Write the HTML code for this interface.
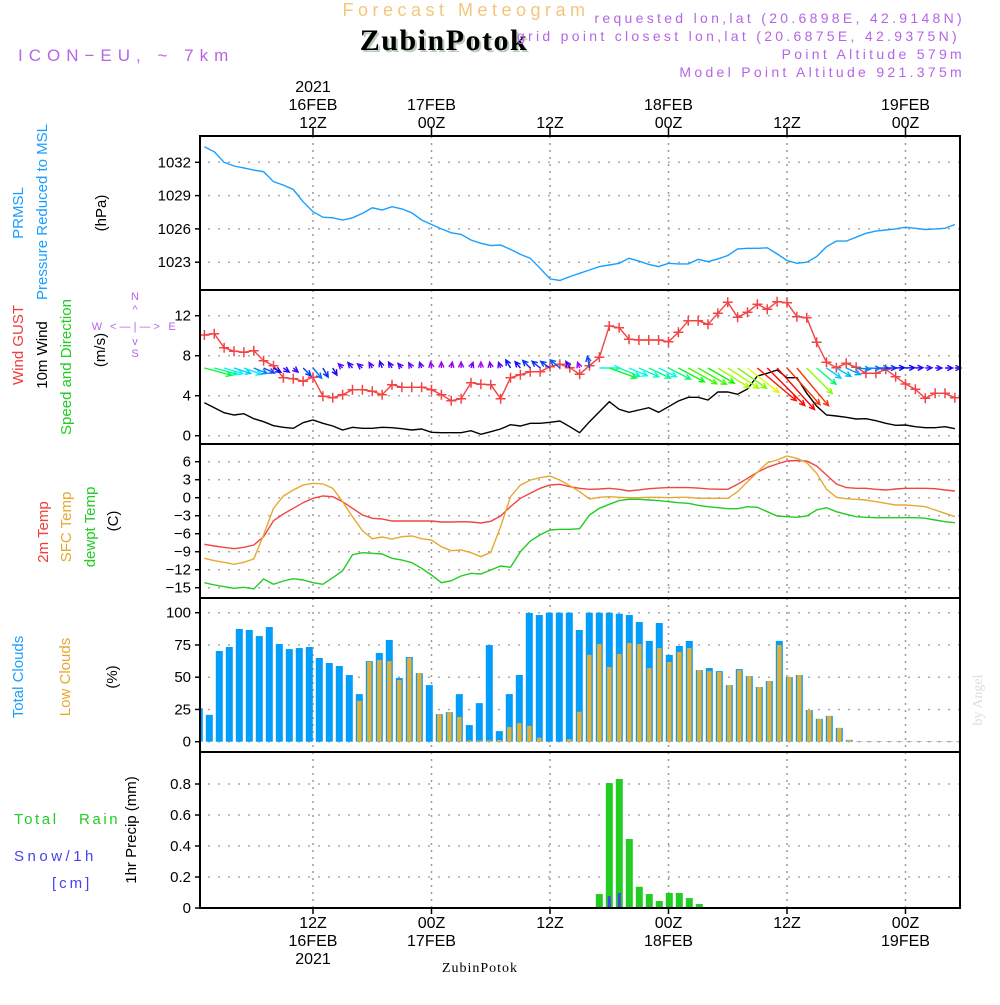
<!DOCTYPE html>
<html><head><meta charset="utf-8"><title>Meteogram</title>
<style>
body{margin:0;background:#fff;}
svg text{font-family:"Liberation Sans",sans-serif;}
</style></head>
<body>
<svg id="chart" width="1000" height="1000" viewBox="0 0 1000 1000" xmlns="http://www.w3.org/2000/svg">
<rect width="1000" height="1000" fill="#fff"/>
<text x="466" y="16" text-anchor="middle" font-size="18" fill="#f2c77c" letter-spacing="4.5">Forecast Meteogram</text>
<text x="446" y="52" text-anchor="middle" font-size="30" font-weight="bold" fill="#b8ccb8" letter-spacing="1.5" style="font-family:'Liberation Serif',serif">ZubinPotok</text>
<text x="444" y="50" text-anchor="middle" font-size="30" font-weight="bold" fill="#000" letter-spacing="1.5" style="font-family:'Liberation Serif',serif">ZubinPotok</text>
<g fill="#b565e8" font-size="14" text-anchor="end" letter-spacing="3.3">
<text x="965" y="23">requested lon,lat (20.6898E, 42.9148N)</text>
<text x="960" y="41">grid point closest lon,lat (20.6875E, 42.9375N)</text>
<text x="965" y="59">Point Altitude 579m</text>
<text x="965" y="77">Model Point Altitude 921.375m</text>
</g>
<text x="18" y="61" font-size="17" fill="#b565e8" letter-spacing="6">ICON−EU, ~ 7km</text>
<g id="grid"></g>
<g id="marks"></g>
<g id="frames"></g>
<g id="labels" font-size="15">
<text transform="translate(23,213) rotate(-90)" text-anchor="middle" fill="#1a9fff">PRMSL</text>
<text transform="translate(47,212) rotate(-90)" text-anchor="middle" fill="#1a9fff">Pressure Reduced to MSL</text>
<text transform="translate(106,213) rotate(-90)" text-anchor="middle" fill="#000">(hPa)</text>
<text transform="translate(23,345) rotate(-90)" text-anchor="middle" fill="#f03c3c">Wind GUST</text>
<text transform="translate(47,355) rotate(-90)" text-anchor="middle" fill="#000">10m Wind</text>
<text transform="translate(71,367) rotate(-90)" text-anchor="middle" fill="#22cc22">Speed and Direction</text>
<text transform="translate(105,350) rotate(-90)" text-anchor="middle" fill="#000">(m/s)</text>
<g fill="#b565e8" font-size="11">
<text x="135" y="300" text-anchor="middle">N</text>
<text x="135" y="313" text-anchor="middle">^</text>
<text x="135" y="330" text-anchor="middle">&lt; — | — &gt;</text>
<text x="97" y="330" text-anchor="middle">W</text>
<text x="172" y="330" text-anchor="middle">E</text>
<text x="135" y="345" text-anchor="middle">v</text>
<text x="135" y="357" text-anchor="middle">S</text>
</g>
<text transform="translate(48,532) rotate(-90)" text-anchor="middle" fill="#f03c3c">2m Temp</text>
<text transform="translate(71,527) rotate(-90)" text-anchor="middle" fill="#e8a830">SFC Temp</text>
<text transform="translate(95,527) rotate(-90)" text-anchor="middle" fill="#22cc22">dewpt Temp</text>
<text transform="translate(118,521) rotate(-90)" text-anchor="middle" fill="#000">(C)</text>
<text transform="translate(23,677) rotate(-90)" text-anchor="middle" fill="#1a9fff">Total Clouds</text>
<text transform="translate(70,677) rotate(-90)" text-anchor="middle" fill="#e8a830">Low Clouds</text>
<text transform="translate(117,677) rotate(-90)" text-anchor="middle" fill="#000">(%)</text>
<text x="14" y="824" fill="#22cc22" letter-spacing="2.6">Total&#160;&#160;&#160;Rain</text>
<text x="14" y="861" fill="#4444ee" letter-spacing="3.5">Snow/1h</text>
<text x="52" y="888" fill="#4444ee" letter-spacing="3">[cm]</text>
<text transform="translate(136,830) rotate(-90)" text-anchor="middle" fill="#000">1hr Precip (mm)</text>
<text transform="translate(982,700) rotate(-90)" text-anchor="middle" fill="#ddd" font-size="14" style="font-family:'Liberation Serif',serif">by Angel</text>
<text x="480" y="972" text-anchor="middle" font-size="14" fill="#000" letter-spacing="1" style="font-family:'Liberation Serif',serif">ZubinPotok</text>
</g>
<g id="timeaxis" font-size="16"></g>
</svg>
<script>
const hours=[];for(let h=1;h<=77;h++)hours.push(h);
const pressure=[1033.4,1032.95,1032.0,1031.67,1031.5,1031.3,1031.15,1030.25,1029.95,1029.55,1028.45,1027.55,1027.05,1027.0,1026.8,1027.0,1027.4,1027.9,1027.7,1028.0,1027.8,1027.45,1026.8,1026.4,1026.0,1025.65,1025.5,1025.0,1024.7,1024.5,1024.55,1024.15,1023.7,1023.35,1022.45,1021.5,1021.35,1021.7,1022.0,1022.3,1022.6,1022.75,1022.9,1023.35,1023.1,1022.8,1022.6,1022.9,1022.85,1022.85,1023.25,1023.05,1023.3,1023.6,1024.2,1024.25,1024.25,1024.3,1023.75,1023.15,1022.9,1023.0,1023.5,1024.4,1024.9,1024.9,1025.25,1025.6,1025.8,1025.9,1026.0,1026.15,1026.05,1025.95,1026.0,1026.05,1026.4];
const gust=[10.07,10.2,8.8,8.45,8.35,8.5,7.5,7.0,5.8,5.7,5.45,5.85,3.95,3.8,4.1,4.6,4.6,4.45,4.1,5.1,4.85,4.85,4.85,4.6,4.1,3.5,3.7,5.3,5.15,5.1,3.7,5.8,6.1,6.4,6.4,6.9,7.15,6.8,6.15,7.0,7.84,10.97,10.8,9.64,9.57,9.57,9.57,9.4,10.34,11.5,11.5,11.14,12.24,13.34,11.84,12.34,13.14,12.64,13.4,13.3,11.9,11.8,9.34,7.34,6.8,7.24,6.84,6.24,6.24,6.64,5.9,5.17,4.64,3.74,4.24,4.24,3.8];
const windSpeed=[3.3,2.8,2.3,2.07,2.2,1.7,1.4,1.0,0.84,0.74,1.3,1.57,1.24,0.97,0.57,0.84,0.74,0.74,0.84,0.8,0.7,0.57,0.67,0.34,0.3,0.3,0.3,0.5,0.14,0.4,0.67,1.1,0.97,1.24,1.24,1.34,1.47,0.9,0.3,1.4,2.4,3.4,2.64,2.34,2.57,2.8,2.34,2.9,3.47,3.84,3.84,3.57,4.37,4.37,4.14,4.67,5.97,6.24,6.57,5.8,5.8,4.24,2.97,2.07,1.97,1.84,1.67,1.7,1.5,1.24,1.04,1.07,0.9,0.8,0.8,0.9,0.7];
const windDir=[285,285,287,288,290,292,295,300,305,310,315,320,330,330,135,140,130,150,160,150,140,150,160,170,180,190,180,200,180,170,160,150,140,135,130,125,130,150,160,170,270,290,292,293,294,295,296,297,298,299,300,300,302,303,305,308,310,315,318,318,320,315,310,305,300,295,275,272,270,270,268,268,268,268,270,270,270];
const temp2m=[-7.77,-8.05,-8.27,-8.5,-8.27,-7.88,-6.5,-3.83,-2.72,-1.77,-0.83,-0.1,0.28,0.17,-0.66,-1.77,-2.88,-3.44,-3.55,-3.88,-3.88,-3.88,-3.88,-3.88,-4.05,-4.05,-4.0,-4.05,-4.22,-3.94,-3.05,-1.49,-0.1,0.73,1.57,2.12,2.23,1.84,1.57,1.4,1.45,1.57,1.4,1.12,1.3,1.5,1.6,1.68,1.68,1.68,1.6,1.46,1.42,1.4,2.23,3.23,4.23,5.06,5.62,6.12,6.2,6.1,5.28,3.78,2.28,1.68,1.57,1.57,1.4,1.28,1.45,1.57,1.57,1.57,1.5,1.28,1.12];
const tempSfc=[-10.1,-10.5,-10.77,-11.1,-10.77,-10.2,-6.2,-1.77,0.28,1.28,2.1,2.4,2.3,1.57,-0.66,-3.16,-5.5,-6.83,-6.55,-6.88,-6.5,-6.38,-6.83,-7.05,-8.16,-8.83,-8.72,-9.16,-9.83,-9.1,-4.83,0.17,2.1,2.94,3.33,3.6,2.94,2.0,1.0,-0.22,0.06,0.17,0.06,0,0,0.06,0.06,0,0.06,0.06,-0.1,-0.1,-0.1,-0.1,1.0,2.67,4.23,5.84,6.28,6.95,6.56,5.84,4.06,1.4,0.06,-0.16,-0.27,-0.38,-0.66,-0.94,-1.22,-1.22,-1.33,-1.5,-2.05,-2.6,-3.16];
const dewpt=[-14.16,-14.55,-14.83,-15.1,-14.94,-15.2,-13.55,-14.44,-13.88,-13.5,-13.72,-14.16,-14.44,-13.33,-12.16,-9.5,-9.16,-9.27,-9.38,-10.1,-10.38,-10.83,-11.77,-12.88,-14.16,-13.83,-13.05,-12.6,-12.72,-12.05,-11.38,-11.6,-9.0,-7.22,-6.2,-5.38,-5.27,-5.27,-5.16,-2.88,-1.77,-1.1,-0.49,-0.27,-0.27,-0.38,-0.49,-0.66,-0.83,-0.94,-1.27,-1.5,-1.66,-1.83,-1.83,-1.5,-1.6,-2.33,-3.05,-3.16,-3.27,-3.05,-2.05,-1.66,-2.33,-2.77,-3.16,-3.27,-3.33,-3.33,-3.33,-3.33,-3.33,-3.44,-3.72,-4.0,-4.16];
const totalClouds=[25.9,20.8,70.3,73.4,87.4,86.6,81.9,88.9,75.7,71.8,72.6,73.4,64.9,61.0,58.7,51.7,36.9,62.5,68.8,78.9,49.4,65.7,53.2,43.9,21.4,22.9,36.9,12.9,29.9,74.9,8.2,36.9,51.7,99.8,98.2,100,100,100,86.6,100,100,100,99.2,98.2,92.8,78.1,92.0,67.3,74.2,78.1,55.5,57.1,54.7,43.9,56.3,50.9,42.4,47,78.1,50.1,51.7,24.6,17.7,20.0,10.7,1.4,0.3,0.3,0.3,0.3,0.3,0.3,0.3,0.3,0.3,0.3,0.3];
const lowClouds=[0,0,0,0,0,0,0,0,0,0,0,0,0,0,0,0,31.7,62.0,63.3,62.5,47.8,65.1,53.2,0,21.4,22.9,19.1,1,1,1,1.3,11.3,14.4,12.3,3.1,0,0,2,23.2,67.3,75.7,57.9,68.1,76.5,75.7,57.1,72.6,61.8,69.6,72.6,55.5,54.7,54.0,43.9,55.5,50.9,42.4,47,75,50.1,51.7,24.6,17.7,20.0,10.7,1.4,0.3,0.3,0.3,0.3,0.3,0.3,0.3,0.3,0.3,0.3,0.3];
const rain=[0,0,0,0,0,0,0,0,0,0,0,0,0,0,0,0,0,0,0,0,0,0,0,0,0,0,0,0,0,0,0,0,0,0,0,0,0,0,0,0,0.09,0.806,0.832,0.445,0.137,0.09,0.045,0.097,0.097,0.064,0.026,0.006,0,0,0,0,0,0,0,0,0,0,0,0,0,0,0,0,0,0,0,0,0,0,0,0,0];
const snow=[0,0,0,0,0,0,0,0,0,0,0,0,0,0,0,0,0,0,0,0,0,0,0,0,0,0,0,0,0,0,0,0,0,0,0,0,0,0,0,0,0.005,0.076,0.097,0.005,0,0,0,0,0,0,0,0,0,0,0,0,0,0,0,0,0,0,0,0,0,0,0,0,0,0,0,0,0,0,0,0,0];
const pressTicks=[1023,1026,1029,1032];
const windTicks=[0,4,8,12];
const tempTicks=[-15,-12,-9,-6,-3,0,3,6];
const cloudTicks=[0,25,50,75,100];
const precipTicks=[0,0.2,0.4,0.6,0.8];
const timeTicks=[12,24,36,48,60,72];
const topLabels=[["2021","16FEB","12Z"],["","17FEB","00Z"],["","","12Z"],["","18FEB","00Z"],["","","12Z"],["","19FEB","00Z"]];
const botLabels=[["12Z","16FEB","2021"],["00Z","17FEB",""],["12Z","",""],["00Z","18FEB",""],["12Z","",""],["00Z","19FEB",""]];

const NS="http://www.w3.org/2000/svg";
const L=200,R=960;
const x=h=>313+(h-12)*9.875;
const xBar=i=>199.3+10*i;
const yP=v=>162.3+(1032-v)*11.1;
const yW=v=>435.7-v*10;
const yT=v=>497.7-v*6;
const yC=v=>741.7-v*1.29;
const yR=v=>908-v*155;
const panels=[[136,290],[290,444],[444,598],[598,752],[752,908]];
function el(tag,attrs,parent){const e=document.createElementNS(NS,tag);for(const k in attrs)e.setAttribute(k,attrs[k]);parent.appendChild(e);return e;}
const grid=document.getElementById('grid'),marks=document.getElementById('marks'),frames=document.getElementById('frames'),tax=document.getElementById('timeaxis');

timeTicks.forEach(h=>{
  const l=el('line',{x1:x(h),x2:x(h),y1:136,y2:908,stroke:'#999','stroke-width':1.5,'stroke-dasharray':'2,5'},grid);
  
  
});
function yAxis(ticks,fy,fmt,name){
  ticks.forEach(t=>{
    const y=fy(t);
    const g=el('line',{x1:L+8,x2:R,y1:y,y2:y,stroke:'#aaa','stroke-width':1.5,'stroke-dasharray':'2,8'},grid);
    
    
    const tk=el('line',{x1:L-5,x2:L,y1:y,y2:y,stroke:'#000','stroke-width':1.5},frames);
    
    
    const tx=el('text',{x:L-9,y:y+5,'text-anchor':'end','font-size':15,fill:'#000'},frames);
    tx.textContent=fmt(t).replace('-','−');
    
    
  });
}
yAxis(pressTicks,yP,t=>String(t),'pressure');
yAxis(windTicks,yW,t=>String(t),'wind');
yAxis(tempTicks,yT,t=>String(t),'temp');
yAxis(cloudTicks,yC,t=>String(t),'cloud');
yAxis(precipTicks,yR,t=>String(t),'precip');

function line(vals,fy,color,name){
  const pts=hours.map((h,i)=>x(h).toFixed(1)+','+fy(vals[i]).toFixed(1)).join(' ');
  const p=el('polyline',{points:pts,fill:'none',stroke:color,'stroke-width':1.4},marks);
  
  
}
line(pressure,yP,'#1a9fff','pressure-line');
line(windSpeed,yW,'#000','wind-speed-line');
line(gust,yW,'#f24444','gust-line');
hours.forEach((h,i)=>{
  const cx=x(h),cy=yW(gust[i]);
  const m=el('path',{d:`M${cx-5},${cy}H${cx+5}M${cx},${cy-5}V${cy+5}`,stroke:'#f24444','stroke-width':1.5},marks);
  
  
});
hours.forEach((h,i)=>{
  const s=windSpeed[i],len=Math.max(6,8.5*s),b=(windDir[i]+180)*Math.PI/180;
  const hue=Math.max(0,290-48*s);const col=`hsl(${hue},95%,50%)`;
  const x0=x(h),y0=368,x1=x0+Math.sin(b)*len,y1=y0-Math.cos(b)*len;
  const a=Math.atan2(y1-y0,x1-x0),hl=6;
  const d=`M${x0},${y0}L${x1},${y1}M${x1-hl*Math.cos(a-0.45)},${y1-hl*Math.sin(a-0.45)}L${x1},${y1}L${x1-hl*Math.cos(a+0.45)},${y1-hl*Math.sin(a+0.45)}`;
  const p=el('path',{d:d,stroke:col,'stroke-width':1.4,fill:'none'},marks);
  
  
});
line(temp2m,yT,'#f24444','temp-2m-line');
line(tempSfc,yT,'#e8a830','temp-sfc-line');
line(dewpt,yT,'#22cc22','dewpoint-line');
hours.forEach((h,i)=>{
  const cx=xBar(i);if(cx>R)return;
  const x0=Math.max(L,cx-3.5),w=Math.min(cx+3.5,R)-x0;
  const b=el('rect',{x:x0,y:yC(totalClouds[i]),width:w,height:yC(0)-yC(totalClouds[i]),fill:'#039dfc'},marks);
  
  
  if(lowClouds[i]>0){
    const o=el('rect',{x:cx-2.2,y:yC(lowClouds[i]),width:4.4,height:yC(0)-yC(lowClouds[i]),fill:'#e8ae30'},marks);
    
    
  }
});
hours.forEach((h,i)=>{
  const cx=xBar(i);
  if(rain[i]>0){
    const b=el('rect',{x:cx-3.5,y:yR(rain[i]),width:7,height:yR(0)-yR(rain[i]),fill:'#22cc22'},marks);
    
    
  }
  if(snow[i]>0){
    const s=el('rect',{x:cx-1.5,y:yR(snow[i]),width:3,height:yR(0)-yR(snow[i]),fill:'#4444ee'},marks);
    
    
  }
});
panels.forEach((p,i)=>{
  const r=el('rect',{x:L,y:p[0],width:R-L,height:p[1]-p[0],fill:'none',stroke:'#000','stroke-width':2},frames);
  
  
});
timeTicks.forEach((h,i)=>{
  const t1=el('line',{x1:x(h),x2:x(h),y1:128,y2:136,stroke:'#000','stroke-width':1.5},tax);
  
  
  const t2=el('line',{x1:x(h),x2:x(h),y1:908,y2:914,stroke:'#000','stroke-width':1.5},tax);
  
  
  [0,1,2].forEach(k=>{
    if(topLabels[i][k]){
      const t=el('text',{x:x(h),y:92+k*18,'text-anchor':'middle',fill:'#000'},tax);
      t.textContent=topLabels[i][k];
      
      
    }
    if(botLabels[i][k]){
      const t=el('text',{x:x(h),y:928+k*18,'text-anchor':'middle',fill:'#000'},tax);
      t.textContent=botLabels[i][k];
      
      
    }
  });
});
</script>
</body></html>
